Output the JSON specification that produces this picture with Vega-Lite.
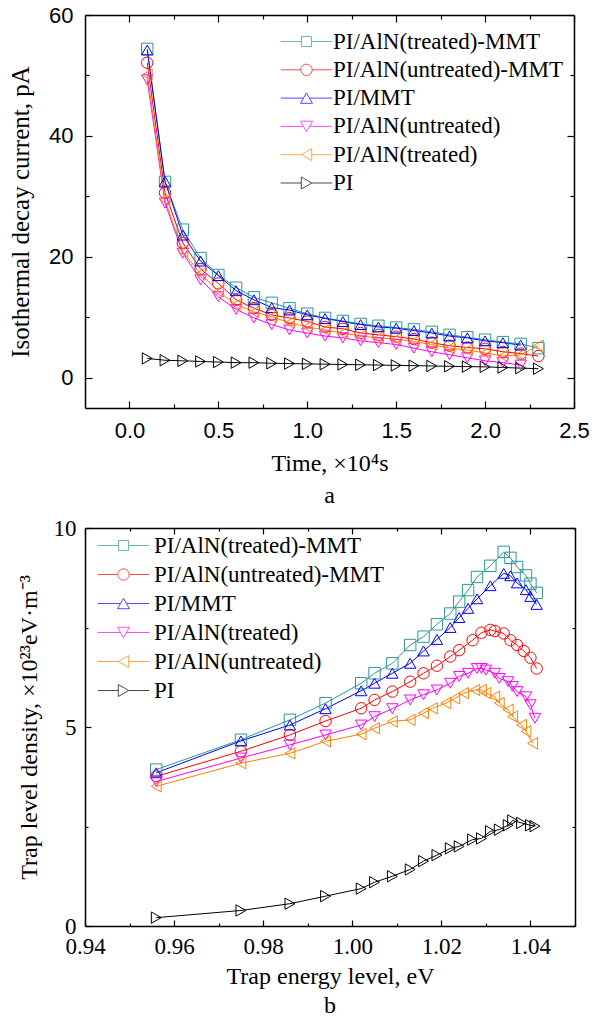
{
  "$schema": "https://vega.github.io/schema/vega-lite/v6.json",
  "background": "white",
  "padding": {"left": 8, "top": 4, "right": 5, "bottom": 0},
  "spacing": 9,
  "config": {
    "view": {"stroke": null},
    "axis": {"grid": false, "domainColor": "black", "domainWidth": 1.5, "tickColor": "black", "tickWidth": 1.2, "labelColor": "black", "titleColor": "black", "labelFlush": false, "labelOverlap": false, "titleFontWeight": "normal", "labelFont": "Liberation Serif", "titleFont": "Liberation Serif"},
    "legend": {"labelFont": "Liberation Serif", "labelFontSize": 23, "labelColor": "black"},
    "title": {"color": "black", "fontWeight": "normal", "font": "Liberation Serif"}
  },
  "resolve": {"scale": {"color": "independent", "shape": "independent"}},
  "vconcat": [
    {
      "width": 489,
      "height": 393,
      "title": {"text": "a", "orient": "bottom", "font": "Liberation Serif", "fontSize": 24, "fontWeight": "normal", "offset": 9},
      "data": {"values": [
        {"s": "PI/AlN(treated)-MMT", "t": 0.1, "v": 54.4}, {"s": "PI/AlN(treated)-MMT", "t": 0.2, "v": 32.4}, {"s": "PI/AlN(treated)-MMT", "t": 0.3, "v": 24.5}, {"s": "PI/AlN(treated)-MMT", "t": 0.4, "v": 19.8}, {"s": "PI/AlN(treated)-MMT", "t": 0.5, "v": 17.0}, {"s": "PI/AlN(treated)-MMT", "t": 0.6, "v": 14.9}, {"s": "PI/AlN(treated)-MMT", "t": 0.7, "v": 13.3}, {"s": "PI/AlN(treated)-MMT", "t": 0.8, "v": 12.4}, {"s": "PI/AlN(treated)-MMT", "t": 0.9, "v": 11.5}, {"s": "PI/AlN(treated)-MMT", "t": 1.0, "v": 10.6}, {"s": "PI/AlN(treated)-MMT", "t": 1.1, "v": 9.9}, {"s": "PI/AlN(treated)-MMT", "t": 1.2, "v": 9.4}, {"s": "PI/AlN(treated)-MMT", "t": 1.3, "v": 8.9}, {"s": "PI/AlN(treated)-MMT", "t": 1.4, "v": 8.6}, {"s": "PI/AlN(treated)-MMT", "t": 1.5, "v": 8.3}, {"s": "PI/AlN(treated)-MMT", "t": 1.6, "v": 8.0}, {"s": "PI/AlN(treated)-MMT", "t": 1.7, "v": 7.6}, {"s": "PI/AlN(treated)-MMT", "t": 1.8, "v": 7.1}, {"s": "PI/AlN(treated)-MMT", "t": 1.9, "v": 6.7}, {"s": "PI/AlN(treated)-MMT", "t": 2.0, "v": 6.3}, {"s": "PI/AlN(treated)-MMT", "t": 2.1, "v": 5.9}, {"s": "PI/AlN(treated)-MMT", "t": 2.2, "v": 5.6}, {"s": "PI/AlN(treated)-MMT", "t": 2.3, "v": 4.9},
        {"s": "PI/AlN(untreated)-MMT", "t": 0.1, "v": 52.1}, {"s": "PI/AlN(untreated)-MMT", "t": 0.2, "v": 30.6}, {"s": "PI/AlN(untreated)-MMT", "t": 0.3, "v": 22.3}, {"s": "PI/AlN(untreated)-MMT", "t": 0.4, "v": 18.0}, {"s": "PI/AlN(untreated)-MMT", "t": 0.5, "v": 15.6}, {"s": "PI/AlN(untreated)-MMT", "t": 0.6, "v": 12.9}, {"s": "PI/AlN(untreated)-MMT", "t": 0.7, "v": 11.5}, {"s": "PI/AlN(untreated)-MMT", "t": 0.8, "v": 10.4}, {"s": "PI/AlN(untreated)-MMT", "t": 0.9, "v": 9.9}, {"s": "PI/AlN(untreated)-MMT", "t": 1.0, "v": 9.3}, {"s": "PI/AlN(untreated)-MMT", "t": 1.1, "v": 8.4}, {"s": "PI/AlN(untreated)-MMT", "t": 1.2, "v": 8.1}, {"s": "PI/AlN(untreated)-MMT", "t": 1.3, "v": 7.4}, {"s": "PI/AlN(untreated)-MMT", "t": 1.4, "v": 7.1}, {"s": "PI/AlN(untreated)-MMT", "t": 1.5, "v": 6.8}, {"s": "PI/AlN(untreated)-MMT", "t": 1.6, "v": 6.4}, {"s": "PI/AlN(untreated)-MMT", "t": 1.7, "v": 5.8}, {"s": "PI/AlN(untreated)-MMT", "t": 1.8, "v": 5.3}, {"s": "PI/AlN(untreated)-MMT", "t": 1.9, "v": 5.0}, {"s": "PI/AlN(untreated)-MMT", "t": 2.0, "v": 4.8}, {"s": "PI/AlN(untreated)-MMT", "t": 2.1, "v": 4.3}, {"s": "PI/AlN(untreated)-MMT", "t": 2.2, "v": 4.0}, {"s": "PI/AlN(untreated)-MMT", "t": 2.3, "v": 3.6},
        {"s": "PI/MMT", "t": 0.1, "v": 54.2}, {"s": "PI/MMT", "t": 0.2, "v": 32.5}, {"s": "PI/MMT", "t": 0.3, "v": 23.6}, {"s": "PI/MMT", "t": 0.4, "v": 19.3}, {"s": "PI/MMT", "t": 0.5, "v": 16.9}, {"s": "PI/MMT", "t": 0.6, "v": 14.4}, {"s": "PI/MMT", "t": 0.7, "v": 12.9}, {"s": "PI/MMT", "t": 0.8, "v": 11.6}, {"s": "PI/MMT", "t": 0.9, "v": 11.2}, {"s": "PI/MMT", "t": 1.0, "v": 10.4}, {"s": "PI/MMT", "t": 1.1, "v": 9.8}, {"s": "PI/MMT", "t": 1.2, "v": 9.3}, {"s": "PI/MMT", "t": 1.3, "v": 8.8}, {"s": "PI/MMT", "t": 1.4, "v": 8.4}, {"s": "PI/MMT", "t": 1.5, "v": 8.2}, {"s": "PI/MMT", "t": 1.6, "v": 7.8}, {"s": "PI/MMT", "t": 1.7, "v": 7.4}, {"s": "PI/MMT", "t": 1.8, "v": 6.9}, {"s": "PI/MMT", "t": 1.9, "v": 6.6}, {"s": "PI/MMT", "t": 2.0, "v": 6.1}, {"s": "PI/MMT", "t": 2.1, "v": 5.8}, {"s": "PI/MMT", "t": 2.2, "v": 5.4},
        {"s": "PI/AlN(untreated)", "t": 0.1, "v": 49.3}, {"s": "PI/AlN(untreated)", "t": 0.2, "v": 28.9}, {"s": "PI/AlN(untreated)", "t": 0.3, "v": 20.6}, {"s": "PI/AlN(untreated)", "t": 0.4, "v": 16.2}, {"s": "PI/AlN(untreated)", "t": 0.5, "v": 13.4}, {"s": "PI/AlN(untreated)", "t": 0.6, "v": 11.3}, {"s": "PI/AlN(untreated)", "t": 0.7, "v": 9.9}, {"s": "PI/AlN(untreated)", "t": 0.8, "v": 8.8}, {"s": "PI/AlN(untreated)", "t": 0.9, "v": 7.9}, {"s": "PI/AlN(untreated)", "t": 1.0, "v": 7.4}, {"s": "PI/AlN(untreated)", "t": 1.1, "v": 6.9}, {"s": "PI/AlN(untreated)", "t": 1.2, "v": 6.6}, {"s": "PI/AlN(untreated)", "t": 1.3, "v": 6.1}, {"s": "PI/AlN(untreated)", "t": 1.4, "v": 5.8}, {"s": "PI/AlN(untreated)", "t": 1.5, "v": 5.5}, {"s": "PI/AlN(untreated)", "t": 1.6, "v": 4.9}, {"s": "PI/AlN(untreated)", "t": 1.7, "v": 4.3}, {"s": "PI/AlN(untreated)", "t": 1.8, "v": 3.8}, {"s": "PI/AlN(untreated)", "t": 1.9, "v": 3.3}, {"s": "PI/AlN(untreated)", "t": 2.0, "v": 2.8}, {"s": "PI/AlN(untreated)", "t": 2.1, "v": 2.5}, {"s": "PI/AlN(untreated)", "t": 2.2, "v": 2.1},
        {"s": "PI/AlN(treated)", "t": 0.1, "v": 50.1}, {"s": "PI/AlN(treated)", "t": 0.2, "v": 29.4}, {"s": "PI/AlN(treated)", "t": 0.3, "v": 20.9}, {"s": "PI/AlN(treated)", "t": 0.4, "v": 17.2}, {"s": "PI/AlN(treated)", "t": 0.5, "v": 14.3}, {"s": "PI/AlN(treated)", "t": 0.6, "v": 12.1}, {"s": "PI/AlN(treated)", "t": 0.7, "v": 10.9}, {"s": "PI/AlN(treated)", "t": 0.8, "v": 10.1}, {"s": "PI/AlN(treated)", "t": 0.9, "v": 9.1}, {"s": "PI/AlN(treated)", "t": 1.0, "v": 8.4}, {"s": "PI/AlN(treated)", "t": 1.1, "v": 7.9}, {"s": "PI/AlN(treated)", "t": 1.2, "v": 7.4}, {"s": "PI/AlN(treated)", "t": 1.3, "v": 6.9}, {"s": "PI/AlN(treated)", "t": 1.4, "v": 6.6}, {"s": "PI/AlN(treated)", "t": 1.5, "v": 6.4}, {"s": "PI/AlN(treated)", "t": 1.6, "v": 6.0}, {"s": "PI/AlN(treated)", "t": 1.7, "v": 5.5}, {"s": "PI/AlN(treated)", "t": 1.8, "v": 4.9}, {"s": "PI/AlN(treated)", "t": 1.9, "v": 4.6}, {"s": "PI/AlN(treated)", "t": 2.0, "v": 4.1}, {"s": "PI/AlN(treated)", "t": 2.1, "v": 3.6}, {"s": "PI/AlN(treated)", "t": 2.2, "v": 3.8}, {"s": "PI/AlN(treated)", "t": 2.3, "v": 5.3},
        {"s": "PI", "t": 0.1, "v": 3.2}, {"s": "PI", "t": 0.2, "v": 2.9}, {"s": "PI", "t": 0.3, "v": 2.8}, {"s": "PI", "t": 0.4, "v": 2.7}, {"s": "PI", "t": 0.5, "v": 2.6}, {"s": "PI", "t": 0.6, "v": 2.5}, {"s": "PI", "t": 0.7, "v": 2.5}, {"s": "PI", "t": 0.8, "v": 2.4}, {"s": "PI", "t": 0.9, "v": 2.35}, {"s": "PI", "t": 1.0, "v": 2.3}, {"s": "PI", "t": 1.1, "v": 2.25}, {"s": "PI", "t": 1.2, "v": 2.2}, {"s": "PI", "t": 1.3, "v": 2.15}, {"s": "PI", "t": 1.4, "v": 2.1}, {"s": "PI", "t": 1.5, "v": 2.05}, {"s": "PI", "t": 1.6, "v": 2.0}, {"s": "PI", "t": 1.7, "v": 1.95}, {"s": "PI", "t": 1.8, "v": 1.9}, {"s": "PI", "t": 1.9, "v": 1.85}, {"s": "PI", "t": 2.0, "v": 1.8}, {"s": "PI", "t": 2.1, "v": 1.7}, {"s": "PI", "t": 2.2, "v": 1.6}, {"s": "PI", "t": 2.3, "v": 1.5}
      ]},
      "resolve": {"scale": {"color": "independent", "shape": "independent"}},
      "layer": [
        {
          "mark": {"type": "line", "strokeWidth": 1},
          "encoding": {
            "x": {"field": "t", "type": "quantitative", "scale": {"domain": [-0.25, 2.5], "nice": false, "zero": false},
              "axis": {"orient": "top", "values": [0, 0.25, 0.5, 0.75, 1, 1.25, 1.5, 1.75, 2, 2.25, 2.5], "labels": false, "title": null,
                "tickSize": {"condition": {"test": "abs(datum.value*2-round(datum.value*2))<0.001", "value": -7}, "value": -4}}},
            "y": {"field": "v", "type": "quantitative", "scale": {"domain": [-5, 60], "nice": false, "zero": false},
              "axis": {"orient": "right", "values": [0, 10, 20, 30, 40, 50, 60], "labels": false, "title": null,
                "tickSize": {"condition": {"test": "datum.value % 20 === 0", "value": -7}, "value": -4}}},
            "color": {"field": "s", "type": "nominal", "legend": null,
              "scale": {"domain": ["PI/AlN(treated)-MMT", "PI/AlN(untreated)-MMT", "PI/MMT", "PI/AlN(untreated)", "PI/AlN(treated)", "PI"], "range": ["#2e9696", "#ff0000", "#0000ff", "#ff00ff", "#ff8000", "#000000"]}}
          }
        },
        {
          "mark": {"type": "point", "filled": false, "strokeWidth": 1, "opacity": 1, "size": 130},
          "encoding": {
            "x": {"field": "t", "type": "quantitative",
              "axis": {"orient": "bottom", "values": [0, 0.25, 0.5, 0.75, 1, 1.25, 1.5, 1.75, 2, 2.25, 2.5],
                "labelExpr": "abs(datum.value*2-round(datum.value*2))<0.001 ? format(datum.value, '.1f') : ''",
                "tickSize": {"condition": {"test": "abs(datum.value*2-round(datum.value*2))<0.001", "value": -7}, "value": -4},
                "labelFont": "Liberation Sans", "labelFontSize": 22, "labelPadding": 19,
                "title": "Time, ×10⁴s", "titleFont": "Liberation Serif", "titleFontSize": 24, "titlePadding": 7}},
            "y": {"field": "v", "type": "quantitative",
              "axis": {"orient": "left", "values": [0, 10, 20, 30, 40, 50, 60],
                "labelExpr": "datum.value % 20 === 0 ? format(datum.value, 'd') : ''",
                "tickSize": {"condition": {"test": "datum.value % 20 === 0", "value": -7}, "value": -4},
                "labelFont": "Liberation Sans", "labelFontSize": 22, "labelPadding": 19,
                "title": "Isothermal decay current, pA", "titleFont": "Liberation Serif", "titleFontSize": 25, "titlePadding": 15}},
            "color": {"field": "s", "type": "nominal", "legend": null,
              "scale": {"domain": ["PI/AlN(treated)-MMT", "PI/AlN(untreated)-MMT", "PI/MMT", "PI/AlN(untreated)", "PI/AlN(treated)", "PI"], "range": ["#2e9696", "#ff0000", "#0000ff", "#ff00ff", "#ff8000", "#000000"]}},
            "shape": {"field": "s", "type": "nominal", "legend": null,
              "scale": {"domain": ["PI/AlN(treated)-MMT", "PI/AlN(untreated)-MMT", "PI/MMT", "PI/AlN(untreated)", "PI/AlN(treated)", "PI"], "range": ["square", "circle", "triangle-up", "triangle-down", "triangle-left", "triangle-right"]}}
          }
        },
        {
          "transform": [{"filter": "false"}],
          "mark": {"type": "point", "filled": false, "strokeWidth": 1},
          "encoding": {
            "x": {"field": "t", "type": "quantitative", "axis": null},
            "y": {"field": "v", "type": "quantitative", "axis": null},
            "color": {"field": "s", "type": "nominal",
              "scale": {"domain": ["PI/AlN(treated)-MMT", "PI/AlN(untreated)-MMT", "PI/MMT", "PI/AlN(untreated)", "PI/AlN(treated)", "PI"], "range": ["#2e9696", "#ff0000", "#0000ff", "#ff00ff", "#ff8000", "#000000"]},
              "legend": {"orient": "none", "legendX": 210, "legendY": 15, "title": null, "labelFont": "Liberation Serif", "labelFontSize": 23, "labelColor": "black", "symbolSize": 144, "symbolStrokeWidth": 1, "symbolFillColor": "transparent", "labelOffset": 15, "rowPadding": 4.3, "padding": 0, "labelLimit": 400}},
            "shape": {"field": "s", "type": "nominal",
              "scale": {"domain": ["PI/AlN(treated)-MMT", "PI/AlN(untreated)-MMT", "PI/MMT", "PI/AlN(untreated)", "PI/AlN(treated)", "PI"],
                "range": ["M-4.3,0H-0.83M0.83,0H4.3M-0.83,-0.83H0.83V0.83H-0.83Z", "M-4.3,0H-0.95M0.95,0H4.3M-0.95,0A0.95,0.95 0 1,0 0.95,0A0.95,0.95 0 1,0 -0.95,0Z", "M-4.3,0H-0.5M0.5,0H4.3M0,-0.87L-1,0.87L1,0.87Z", "M-4.3,0H-0.5M0.5,0H4.3M0,0.87L-1,-0.87L1,-0.87Z", "M-4.3,0H-0.87M0.87,0H4.3M-0.87,0L0.87,-1L0.87,1Z", "M-4.3,0H-0.87M0.87,0H4.3M0.87,0L-0.87,-1L-0.87,1Z"]},
              "legend": {"orient": "none", "legendX": 210, "legendY": 15, "title": null, "labelFont": "Liberation Serif", "labelFontSize": 23, "labelColor": "black", "symbolSize": 144, "symbolStrokeWidth": 1, "symbolFillColor": "transparent", "labelOffset": 15, "rowPadding": 4.3, "padding": 0, "labelLimit": 400}}
          }
        }
      ]
    },
    {
      "width": 490,
      "height": 398,
      "title": {"text": "b", "orient": "bottom", "font": "Liberation Serif", "fontSize": 24, "fontWeight": "normal", "offset": 6},
      "data": {"values": [
        {"s": "PI/AlN(treated)-MMT", "e": 0.956, "d": 3.93}, {"s": "PI/AlN(treated)-MMT", "e": 0.975, "d": 4.68}, {"s": "PI/AlN(treated)-MMT", "e": 0.986, "d": 5.18}, {"s": "PI/AlN(treated)-MMT", "e": 0.994, "d": 5.60}, {"s": "PI/AlN(treated)-MMT", "e": 1.002, "d": 6.10}, {"s": "PI/AlN(treated)-MMT", "e": 1.005, "d": 6.35}, {"s": "PI/AlN(treated)-MMT", "e": 1.009, "d": 6.60}, {"s": "PI/AlN(treated)-MMT", "e": 1.013, "d": 7.06}, {"s": "PI/AlN(treated)-MMT", "e": 1.016, "d": 7.27}, {"s": "PI/AlN(treated)-MMT", "e": 1.019, "d": 7.58}, {"s": "PI/AlN(treated)-MMT", "e": 1.022, "d": 7.85}, {"s": "PI/AlN(treated)-MMT", "e": 1.024, "d": 8.15}, {"s": "PI/AlN(treated)-MMT", "e": 1.026, "d": 8.44}, {"s": "PI/AlN(treated)-MMT", "e": 1.028, "d": 8.77}, {"s": "PI/AlN(treated)-MMT", "e": 1.031, "d": 9.05}, {"s": "PI/AlN(treated)-MMT", "e": 1.034, "d": 9.40}, {"s": "PI/AlN(treated)-MMT", "e": 1.0355, "d": 9.25}, {"s": "PI/AlN(treated)-MMT", "e": 1.037, "d": 9.02}, {"s": "PI/AlN(treated)-MMT", "e": 1.039, "d": 8.81}, {"s": "PI/AlN(treated)-MMT", "e": 1.040, "d": 8.60}, {"s": "PI/AlN(treated)-MMT", "e": 1.0414, "d": 8.37},
        {"s": "PI/AlN(untreated)-MMT", "e": 0.956, "d": 3.76}, {"s": "PI/AlN(untreated)-MMT", "e": 0.975, "d": 4.39}, {"s": "PI/AlN(untreated)-MMT", "e": 0.986, "d": 4.80}, {"s": "PI/AlN(untreated)-MMT", "e": 0.994, "d": 5.15}, {"s": "PI/AlN(untreated)-MMT", "e": 1.002, "d": 5.47}, {"s": "PI/AlN(untreated)-MMT", "e": 1.005, "d": 5.68}, {"s": "PI/AlN(untreated)-MMT", "e": 1.009, "d": 5.89}, {"s": "PI/AlN(untreated)-MMT", "e": 1.013, "d": 6.14}, {"s": "PI/AlN(untreated)-MMT", "e": 1.016, "d": 6.35}, {"s": "PI/AlN(untreated)-MMT", "e": 1.019, "d": 6.54}, {"s": "PI/AlN(untreated)-MMT", "e": 1.022, "d": 6.77}, {"s": "PI/AlN(untreated)-MMT", "e": 1.024, "d": 6.93}, {"s": "PI/AlN(untreated)-MMT", "e": 1.027, "d": 7.18}, {"s": "PI/AlN(untreated)-MMT", "e": 1.029, "d": 7.37}, {"s": "PI/AlN(untreated)-MMT", "e": 1.031, "d": 7.44}, {"s": "PI/AlN(untreated)-MMT", "e": 1.032, "d": 7.41}, {"s": "PI/AlN(untreated)-MMT", "e": 1.034, "d": 7.35}, {"s": "PI/AlN(untreated)-MMT", "e": 1.0355, "d": 7.18}, {"s": "PI/AlN(untreated)-MMT", "e": 1.037, "d": 7.06}, {"s": "PI/AlN(untreated)-MMT", "e": 1.0385, "d": 6.91}, {"s": "PI/AlN(untreated)-MMT", "e": 1.040, "d": 6.74}, {"s": "PI/AlN(untreated)-MMT", "e": 1.0414, "d": 6.47},
        {"s": "PI/MMT", "e": 0.956, "d": 3.85}, {"s": "PI/MMT", "e": 0.975, "d": 4.65}, {"s": "PI/MMT", "e": 0.986, "d": 5.05}, {"s": "PI/MMT", "e": 0.994, "d": 5.46}, {"s": "PI/MMT", "e": 1.002, "d": 5.91}, {"s": "PI/MMT", "e": 1.005, "d": 6.10}, {"s": "PI/MMT", "e": 1.009, "d": 6.35}, {"s": "PI/MMT", "e": 1.013, "d": 6.60}, {"s": "PI/MMT", "e": 1.016, "d": 6.91}, {"s": "PI/MMT", "e": 1.019, "d": 7.20}, {"s": "PI/MMT", "e": 1.022, "d": 7.50}, {"s": "PI/MMT", "e": 1.024, "d": 7.75}, {"s": "PI/MMT", "e": 1.026, "d": 7.98}, {"s": "PI/MMT", "e": 1.028, "d": 8.22}, {"s": "PI/MMT", "e": 1.031, "d": 8.55}, {"s": "PI/MMT", "e": 1.034, "d": 8.86}, {"s": "PI/MMT", "e": 1.0355, "d": 8.80}, {"s": "PI/MMT", "e": 1.037, "d": 8.62}, {"s": "PI/MMT", "e": 1.039, "d": 8.45}, {"s": "PI/MMT", "e": 1.040, "d": 8.28}, {"s": "PI/MMT", "e": 1.0414, "d": 8.08},
        {"s": "PI/AlN(treated)", "e": 0.956, "d": 3.63}, {"s": "PI/AlN(treated)", "e": 0.975, "d": 4.22}, {"s": "PI/AlN(treated)", "e": 0.986, "d": 4.55}, {"s": "PI/AlN(treated)", "e": 0.994, "d": 4.80}, {"s": "PI/AlN(treated)", "e": 1.002, "d": 5.05}, {"s": "PI/AlN(treated)", "e": 1.005, "d": 5.26}, {"s": "PI/AlN(treated)", "e": 1.009, "d": 5.46}, {"s": "PI/AlN(treated)", "e": 1.013, "d": 5.68}, {"s": "PI/AlN(treated)", "e": 1.016, "d": 5.81}, {"s": "PI/AlN(treated)", "e": 1.019, "d": 5.93}, {"s": "PI/AlN(treated)", "e": 1.022, "d": 6.10}, {"s": "PI/AlN(treated)", "e": 1.024, "d": 6.27}, {"s": "PI/AlN(treated)", "e": 1.026, "d": 6.35}, {"s": "PI/AlN(treated)", "e": 1.028, "d": 6.47}, {"s": "PI/AlN(treated)", "e": 1.029, "d": 6.47}, {"s": "PI/AlN(treated)", "e": 1.030, "d": 6.43}, {"s": "PI/AlN(treated)", "e": 1.032, "d": 6.35}, {"s": "PI/AlN(treated)", "e": 1.033, "d": 6.22}, {"s": "PI/AlN(treated)", "e": 1.035, "d": 6.14}, {"s": "PI/AlN(treated)", "e": 1.036, "d": 6.02}, {"s": "PI/AlN(treated)", "e": 1.037, "d": 5.89}, {"s": "PI/AlN(treated)", "e": 1.039, "d": 5.76}, {"s": "PI/AlN(treated)", "e": 1.040, "d": 5.56}, {"s": "PI/AlN(treated)", "e": 1.041, "d": 5.22},
        {"s": "PI/AlN(untreated)", "e": 0.956, "d": 3.51}, {"s": "PI/AlN(untreated)", "e": 0.975, "d": 4.09}, {"s": "PI/AlN(untreated)", "e": 0.986, "d": 4.34}, {"s": "PI/AlN(untreated)", "e": 0.994, "d": 4.64}, {"s": "PI/AlN(untreated)", "e": 1.002, "d": 4.82}, {"s": "PI/AlN(untreated)", "e": 1.005, "d": 4.97}, {"s": "PI/AlN(untreated)", "e": 1.009, "d": 5.14}, {"s": "PI/AlN(untreated)", "e": 1.013, "d": 5.18}, {"s": "PI/AlN(untreated)", "e": 1.016, "d": 5.35}, {"s": "PI/AlN(untreated)", "e": 1.018, "d": 5.47}, {"s": "PI/AlN(untreated)", "e": 1.021, "d": 5.60}, {"s": "PI/AlN(untreated)", "e": 1.023, "d": 5.72}, {"s": "PI/AlN(untreated)", "e": 1.025, "d": 5.85}, {"s": "PI/AlN(untreated)", "e": 1.0275, "d": 5.93}, {"s": "PI/AlN(untreated)", "e": 1.029, "d": 5.93}, {"s": "PI/AlN(untreated)", "e": 1.030, "d": 5.85}, {"s": "PI/AlN(untreated)", "e": 1.032, "d": 5.76}, {"s": "PI/AlN(untreated)", "e": 1.033, "d": 5.60}, {"s": "PI/AlN(untreated)", "e": 1.035, "d": 5.43}, {"s": "PI/AlN(untreated)", "e": 1.036, "d": 5.26}, {"s": "PI/AlN(untreated)", "e": 1.038, "d": 5.05}, {"s": "PI/AlN(untreated)", "e": 1.039, "d": 4.89}, {"s": "PI/AlN(untreated)", "e": 1.0405, "d": 4.59},
        {"s": "PI", "e": 0.956, "d": 0.21}, {"s": "PI", "e": 0.975, "d": 0.39}, {"s": "PI", "e": 0.986, "d": 0.56}, {"s": "PI", "e": 0.994, "d": 0.75}, {"s": "PI", "e": 1.002, "d": 0.94}, {"s": "PI", "e": 1.005, "d": 1.10}, {"s": "PI", "e": 1.009, "d": 1.25}, {"s": "PI", "e": 1.013, "d": 1.42}, {"s": "PI", "e": 1.016, "d": 1.63}, {"s": "PI", "e": 1.019, "d": 1.78}, {"s": "PI", "e": 1.022, "d": 1.95}, {"s": "PI", "e": 1.024, "d": 2.00}, {"s": "PI", "e": 1.027, "d": 2.17}, {"s": "PI", "e": 1.029, "d": 2.20}, {"s": "PI", "e": 1.031, "d": 2.38}, {"s": "PI", "e": 1.033, "d": 2.42}, {"s": "PI", "e": 1.035, "d": 2.53}, {"s": "PI", "e": 1.036, "d": 2.65}, {"s": "PI", "e": 1.038, "d": 2.59}, {"s": "PI", "e": 1.040, "d": 2.53}, {"s": "PI", "e": 1.041, "d": 2.51}
      ]},
      "resolve": {"scale": {"color": "independent", "shape": "independent"}},
      "layer": [
        {
          "mark": {"type": "line", "strokeWidth": 1},
          "encoding": {
            "x": {"field": "e", "type": "quantitative", "scale": {"domain": [0.94, 1.05], "nice": false, "zero": false},
              "axis": {"orient": "top", "values": [0.94, 0.95, 0.96, 0.97, 0.98, 0.99, 1.0, 1.01, 1.02, 1.03, 1.04, 1.05], "labels": false, "title": null,
                "tickSize": {"condition": {"test": "abs(datum.value*50-round(datum.value*50))<0.001", "value": -6}, "value": -3}}},
            "y": {"field": "d", "type": "quantitative", "scale": {"domain": [0, 10], "nice": false, "zero": false},
              "axis": {"orient": "right", "values": [0, 2.5, 5, 7.5, 10], "labels": false, "title": null,
                "tickSize": {"condition": {"test": "datum.value % 5 === 0", "value": -6}, "value": -3}}},
            "color": {"field": "s", "type": "nominal", "legend": null,
              "scale": {"domain": ["PI/AlN(treated)-MMT", "PI/AlN(untreated)-MMT", "PI/MMT", "PI/AlN(treated)", "PI/AlN(untreated)", "PI"], "range": ["#2e9696", "#ff0000", "#0000ff", "#ff00ff", "#ff8000", "#000000"]}}
          }
        },
        {
          "mark": {"type": "point", "filled": false, "strokeWidth": 1, "opacity": 1, "size": 130},
          "encoding": {
            "x": {"field": "e", "type": "quantitative",
              "axis": {"orient": "bottom", "values": [0.94, 0.95, 0.96, 0.97, 0.98, 0.99, 1.0, 1.01, 1.02, 1.03, 1.04, 1.05],
                "labelExpr": "abs(datum.value*50-round(datum.value*50))<0.001 ? format(datum.value, '.2f') : ''",
                "tickSize": {"condition": {"test": "abs(datum.value*50-round(datum.value*50))<0.001", "value": -6}, "value": -3},
                "labelFont": "Liberation Serif", "labelFontSize": 23, "labelPadding": 15,
                "title": "Trap energy level, eV", "titleFont": "Liberation Serif", "titleFontSize": 24, "titlePadding": 3}},
            "y": {"field": "d", "type": "quantitative",
              "axis": {"orient": "left", "values": [0, 2.5, 5, 7.5, 10],
                "labelExpr": "datum.value % 5 === 0 ? format(datum.value, 'd') : ''",
                "tickSize": {"condition": {"test": "datum.value % 5 === 0", "value": -6}, "value": -3},
                "labelFont": "Liberation Serif", "labelFontSize": 23, "labelPadding": 15,
                "title": "Trap level density, ×10²³eV·m⁻³", "titleFont": "Liberation Serif", "titleFontSize": 24, "titlePadding": 12}},
            "color": {"field": "s", "type": "nominal", "legend": null,
              "scale": {"domain": ["PI/AlN(treated)-MMT", "PI/AlN(untreated)-MMT", "PI/MMT", "PI/AlN(treated)", "PI/AlN(untreated)", "PI"], "range": ["#2e9696", "#ff0000", "#0000ff", "#ff00ff", "#ff8000", "#000000"]}},
            "shape": {"field": "s", "type": "nominal", "legend": null,
              "scale": {"domain": ["PI/AlN(treated)-MMT", "PI/AlN(untreated)-MMT", "PI/MMT", "PI/AlN(treated)", "PI/AlN(untreated)", "PI"], "range": ["square", "circle", "triangle-up", "triangle-down", "triangle-left", "triangle-right"]}}
          }
        },
        {
          "transform": [{"filter": "false"}],
          "mark": {"type": "point", "filled": false, "strokeWidth": 1},
          "encoding": {
            "x": {"field": "e", "type": "quantitative", "axis": null},
            "y": {"field": "d", "type": "quantitative", "axis": null},
            "color": {"field": "s", "type": "nominal",
              "scale": {"domain": ["PI/AlN(treated)-MMT", "PI/AlN(untreated)-MMT", "PI/MMT", "PI/AlN(treated)", "PI/AlN(untreated)", "PI"], "range": ["#2e9696", "#ff0000", "#0000ff", "#ff00ff", "#ff8000", "#000000"]},
              "legend": {"orient": "none", "legendX": 27, "legendY": 6, "title": null, "labelFont": "Liberation Serif", "labelFontSize": 23, "labelColor": "black", "symbolSize": 144, "symbolStrokeWidth": 1, "symbolFillColor": "transparent", "labelOffset": 19, "rowPadding": 5, "padding": 0, "labelLimit": 400}},
            "shape": {"field": "s", "type": "nominal",
              "scale": {"domain": ["PI/AlN(treated)-MMT", "PI/AlN(untreated)-MMT", "PI/MMT", "PI/AlN(treated)", "PI/AlN(untreated)", "PI"],
                "range": ["M-4.3,0H-0.83M0.83,0H4.3M-0.83,-0.83H0.83V0.83H-0.83Z", "M-4.3,0H-0.95M0.95,0H4.3M-0.95,0A0.95,0.95 0 1,0 0.95,0A0.95,0.95 0 1,0 -0.95,0Z", "M-4.3,0H-0.5M0.5,0H4.3M0,-0.87L-1,0.87L1,0.87Z", "M-4.3,0H-0.5M0.5,0H4.3M0,0.87L-1,-0.87L1,-0.87Z", "M-4.3,0H-0.87M0.87,0H4.3M-0.87,0L0.87,-1L0.87,1Z", "M-4.3,0H-0.87M0.87,0H4.3M0.87,0L-0.87,-1L-0.87,1Z"]},
              "legend": {"orient": "none", "legendX": 27, "legendY": 6, "title": null, "labelFont": "Liberation Serif", "labelFontSize": 23, "labelColor": "black", "symbolSize": 144, "symbolStrokeWidth": 1, "symbolFillColor": "transparent", "labelOffset": 19, "rowPadding": 5, "padding": 0, "labelLimit": 400}}
          }
        }
      ]
    }
  ]
}
